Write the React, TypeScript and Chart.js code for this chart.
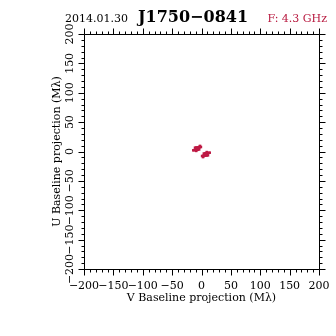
import React, { useEffect, useRef } from "react";
import { Chart, registerables } from "chart.js";

Chart.register(...registerables);

// Observation header
const obsDate = "2014.01.30";
const sourceName = "J1750−0841";
const freqLabel = "F: 4.3 GHz";

// Axis setup
const axisMin = -200;
const axisMax = 200;
const majorStep = 50;
const minorStep = 10;
const xTitle = "V Baseline projection (Mλ)";
const yTitle = "U Baseline projection (Mλ)";

// UV coverage points (V = x, U = y), both halves of the symmetric coverage
const vHalfA = [-11, -9, -7, -5, -3, -1, -14, -12, -10, -8, -6, -4, -9, -7.7, -6.4, -5.1, -3.8, -2.5];
const uHalfA = [6.5, 6.8, 7, 7.2, 7.4, 7.6, 2, 2.3, 2.6, 2.9, 3.2, 3.5, 1, 2.7, 4.4, 6.1, 7.8, 9.5];
const vHalfB = [11, 9, 7, 5, 3, 1, 14, 12, 10, 8, 6, 4, 9, 7.7, 6.4, 5.1, 3.8, 2.5];
const uHalfB = [-6.5, -6.8, -7, -7.2, -7.4, -7.6, -2, -2.3, -2.6, -2.9, -3.2, -3.5, -1, -2.7, -4.4, -6.1, -7.8, -9.5];

const pointColor = "#be1a44";
const serif = "'DejaVu Serif', 'Liberation Serif', serif";

const fmt = (v: number) => (v < 0 ? "−" + Math.abs(v) : String(v));

const framePlugin = {
  id: "frame",
  afterDraw(chart: any) {
    const { ctx, chartArea: a, scales } = chart;
    const xs = scales.x;
    const ys = scales.y;
    ctx.save();
    ctx.strokeStyle = "#000";
    ctx.lineWidth = 1;
    ctx.beginPath();
    const L = Math.round(a.left) + 0.5;
    const R = Math.round(a.right) + 0.5;
    const T = Math.round(a.top) + 0.5;
    const B = Math.round(a.bottom) + 0.5;
    ctx.rect(L, T, R - L, B - T);
    for (let v = axisMin; v <= axisMax; v += minorStep) {
      const len = v % majorStep === 0 ? 6 : 3;
      const px = Math.round(xs.getPixelForValue(v)) + 0.5;
      const py = Math.round(ys.getPixelForValue(v)) + 0.5;
      ctx.moveTo(px, T);
      ctx.lineTo(px, T - len);
      ctx.moveTo(px, B);
      ctx.lineTo(px, B + len);
      ctx.moveTo(L, py);
      ctx.lineTo(L - len, py);
      ctx.moveTo(R, py);
      ctx.lineTo(R + len, py);
    }
    ctx.stroke();

    // rotated y tick labels
    ctx.fillStyle = "#000";
    ctx.font = `11px ${serif}`;
    ctx.textAlign = "center";
    ctx.textBaseline = "middle";
    ys.ticks.forEach((t: any) => {
      const py = ys.getPixelForValue(t.value);
      ctx.save();
      ctx.translate(70, py);
      ctx.rotate(-Math.PI / 2);
      ctx.fillText(fmt(t.value), 0, 0);
      ctx.restore();
    });

    // header
    ctx.textBaseline = "alphabetic";
    ctx.textAlign = "left";
    ctx.font = `11px ${serif}`;
    ctx.fillText(obsDate, 65, 22);
    ctx.font = `bold 16px ${serif}`;
    ctx.fillText(sourceName, 138, 22);
    ctx.fillStyle = "#b8193f";
    ctx.font = `11px ${serif}`;
    ctx.textAlign = "right";
    ctx.fillText(freqLabel, 327, 22);
    ctx.restore();
  },
};

export default function App() {
  const ref = useRef<HTMLCanvasElement>(null);
  useEffect(() => {
    document.body.style.margin = "0";
    const pts = [
      ...vHalfA.map((v, i) => ({ x: v, y: uHalfA[i] })),
      ...vHalfB.map((v, i) => ({ x: v, y: uHalfB[i] })),
    ];
    const chart = new Chart(ref.current!, {
      type: "scatter",
      data: {
        datasets: [
          {
            data: pts,
            pointStyle: "rect",
            pointRadius: 1.8,
            backgroundColor: pointColor,
            borderWidth: 0,
          },
        ],
      },
      options: {
        animation: false,
        responsive: false,
        maintainAspectRatio: false,
        layout: { padding: { top: 34, right: 17, left: 0, bottom: 0 } },
        plugins: { legend: { display: false }, tooltip: { enabled: false } },
        scales: {
          x: {
            type: "linear",
            position: "bottom",
            min: axisMin,
            max: axisMax,
            afterFit: (s: any) => {
              s.height = 67;
            },
            grid: { display: false },
            border: { display: false },
            ticks: {
              stepSize: majorStep,
              autoSkip: false,
              maxRotation: 0,
              minRotation: 0,
              padding: 3,
              color: "#000",
              font: { family: serif, size: 11 },
              callback: (v: any) => fmt(Number(v)),
            },
            title: {
              display: true,
              text: xTitle,
              color: "#000",
              font: { family: serif, size: 11 },
              padding: { top: 0, bottom: 31 },
            },
          },
          y: {
            type: "linear",
            position: "left",
            min: axisMin,
            max: axisMax,
            afterFit: (s: any) => {
              s.width = 84;
            },
            grid: { display: false },
            border: { display: false },
            ticks: { stepSize: majorStep, display: false },
            title: {
              display: true,
              text: yTitle,
              color: "#000",
              font: { family: serif, size: 11 },
              padding: { top: 51, bottom: 0 },
            },
          },
        },
      },
      plugins: [framePlugin],
    });
    return () => chart.destroy();
  }, []);
  return (
    <div style={{ width: 336, height: 336 }}>
      <canvas ref={ref} width={336} height={336} style={{ display: "block" }} />
    </div>
  );
}
